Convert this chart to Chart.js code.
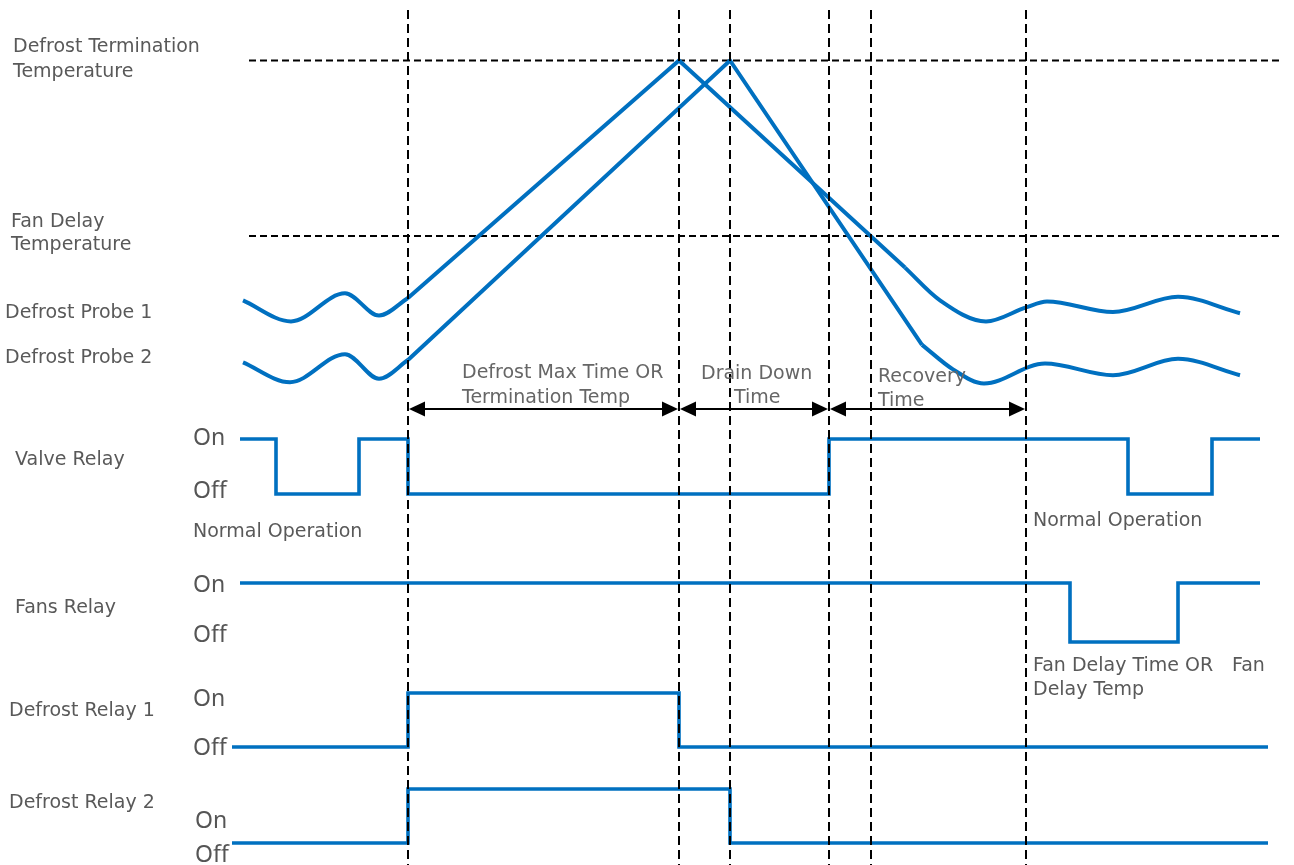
<!DOCTYPE html>
<html>
<head>
<meta charset="utf-8">
<title>Defrost sequence timing</title>
<script src="https://cdn.jsdelivr.net/npm/chart.js@4.4.1/dist/chart.umd.min.js"></script>
<style>
  html, body { margin: 0; padding: 0; background: #ffffff; }
  #wrap { width: 1294px; height: 865px; }
</style>
</head>
<body>
<div id="wrap"><canvas id="timing" width="1294" height="865"></canvas></div>
<script>
// time in minutes, 0 = start of defrost
const events = [0, 27.1, 32.2, 42.1, 46.3, 61.8];

// temperatures in degC
const terminationTemp = 15;
const fanDelayTemp = 0;
const thresholdSpan = [-15.9, 87.2];

const probe1WaveTime = [-16.5, -11.7, -6.3, -2.9, 0];
const probe1WaveTemp = [-5.5, -7.3, -4.9, -6.8, -5.3];
const probe1RampTime = [0, 27.1, 49.7];
const probe1RampTemp = [-5.3, 15, -2.7];
const probe1TailTime = [49.7, 53.2, 57.8, 61.8, 63.9, 70.5, 77.0, 83.2];
const probe1TailTemp = [-2.7, -5.5, -7.3, -6.1, -5.6, -6.5, -5.2, -6.6];

const probe2WaveTime = [-16.5, -11.8, -6.3, -2.9, 0];
const probe2WaveTemp = [-10.8, -12.5, -10.1, -12.2, -10.6];
const probe2RampTime = [0, 32.2, 51.4];
const probe2RampTemp = [-10.6, 15, -9.3];
const probe2TailTime = [51.4, 54.5, 57.6, 63.7, 70.5, 77.0, 83.2];
const probe2TailTemp = [-9.3, -11.4, -12.6, -10.9, -11.9, -10.5, -11.9];

// relay states, 1 = On, 0 = Off (state holds from that time on)
const valveTime = [-16.8, -13.2, -4.9, 0, 42.1, 72.0, 80.4, 85.2];
const valveState = [1, 0, 1, 0, 1, 0, 1, 1];
const fansTime = [-16.8, 66.2, 77.0, 85.2];
const fansState = [1, 0, 1, 1];
const defrost1Time = [-17.6, 0, 27.1, 86.0];
const defrost1State = [0, 1, 0, 0];
const defrost2Time = [-17.6, 0, 32.2, 86.0];
const defrost2State = [0, 1, 0, 0];

const BLUE = '#0070C0';
const GREY = '#595959';
const W = 1294, H = 865;

// each track gets its own hidden axis; range chosen so two values land on given pixel rows
function axisRange(vHigh, pxHigh, vLow, pxLow) {
  const k = (pxLow - pxHigh) / (vHigh - vLow);
  return { min: vHigh - (H - pxHigh) / k, max: vHigh + pxHigh / k };
}

const pts = (xs, ys) => xs.map((t, i) => ({ x: t, y: ys[i] }));

function probe(xs, ys, curved) {
  return {
    data: pts(xs, ys),
    yAxisID: 'yTemp',
    borderColor: BLUE,
    borderWidth: 4,
    pointRadius: 0,
    cubicInterpolationMode: curved ? 'monotone' : 'default',
    tension: 0
  };
}

function relay(xs, ys, axis) {
  return {
    data: pts(xs, ys),
    yAxisID: axis,
    borderColor: BLUE,
    borderWidth: 3.6,
    pointRadius: 0,
    stepped: 'before'
  };
}

function threshold(temp) {
  return {
    data: pts(thresholdSpan, [temp, temp]),
    yAxisID: 'yTemp',
    borderColor: '#000000',
    borderWidth: 2,
    borderDash: [7, 4],
    pointRadius: 0
  };
}

const labels = [
  ['Defrost Termination', 13, 52], ['Temperature', 13, 77],
  ['Fan Delay', 11, 227], ['Temperature', 11, 250],
  ['Defrost Probe 1', 5, 318], ['Defrost Probe 2', 5, 363],
  ['Valve Relay', 15, 465], ['Fans Relay', 15, 613],
  ['Defrost Relay 1', 9, 716], ['Defrost Relay 2', 9, 808],
  ['Normal Operation', 193, 537], ['Normal Operation', 1033, 526],
  ['Fan Delay Time OR', 1033, 671], ['Fan', 1232, 671], ['Delay Temp', 1033, 695]
];
const notes = [
  ['Defrost Max Time OR', 462, 378], ['Termination Temp', 462, 403],
  ['Drain Down', 701, 379], ['Time', 734, 403],
  ['Recovery', 878, 382], ['Time', 878, 406]
];
const onOff = [
  ['On', 193, 445], ['Off', 193, 498],
  ['On', 193, 592], ['Off', 193, 642],
  ['On', 193, 706], ['Off', 193, 755],
  ['On', 195, 828], ['Off', 195, 862]
];
// arrows between event lines (indices into events)
const phases = [[0, 1], [1, 3], [3, 5]];

const overlay = {
  id: 'overlay',
  afterDatasetsDraw(chart) {
    const { ctx, chartArea } = chart;
    const x = chart.scales.x;
    ctx.save();

    ctx.strokeStyle = '#000';
    ctx.lineWidth = 2;
    ctx.setLineDash([9, 5]);
    events.forEach(t => {
      const px = Math.round(x.getPixelForValue(t));
      ctx.beginPath();
      ctx.moveTo(px, chartArea.top + 10);
      ctx.lineTo(px, chartArea.bottom);
      ctx.stroke();
    });

    ctx.setLineDash([]);
    const ay = 409;
    ctx.fillStyle = '#000';
    phases.forEach(([a, b]) => {
      const x1 = x.getPixelForValue(events[a]) + 1;
      const x2 = x.getPixelForValue(events[b]) - 1;
      ctx.beginPath();
      ctx.moveTo(x1 + 10, ay);
      ctx.lineTo(x2 - 10, ay);
      ctx.stroke();
      ctx.beginPath();
      ctx.moveTo(x1, ay); ctx.lineTo(x1 + 16, ay - 7.5); ctx.lineTo(x1 + 16, ay + 7.5);
      ctx.closePath(); ctx.fill();
      ctx.beginPath();
      ctx.moveTo(x2, ay); ctx.lineTo(x2 - 16, ay - 7.5); ctx.lineTo(x2 - 16, ay + 7.5);
      ctx.closePath(); ctx.fill();
    });
    ctx.restore();
  },
  afterDraw(chart) {
    const ctx = chart.ctx;
    ctx.save();
    ctx.textBaseline = 'alphabetic';
    ctx.font = '19px "DejaVu Sans"';
    ctx.fillStyle = GREY;
    labels.forEach(([s, lx, ly]) => ctx.fillText(s, lx, ly));
    ctx.fillStyle = '#666666';
    notes.forEach(([s, lx, ly]) => ctx.fillText(s, lx, ly));
    ctx.font = '23px "Noto Sans"';
    ctx.fillStyle = '#555555';
    onOff.forEach(([s, lx, ly]) => ctx.fillText(s, lx, ly));
    ctx.restore();
  }
};

const hidden = r => Object.assign({ type: 'linear', display: false }, r);

new Chart(document.getElementById('timing'), {
  type: 'line',
  data: {
    datasets: [
      probe(probe1WaveTime, probe1WaveTemp, true),
      probe(probe1RampTime, probe1RampTemp, false),
      probe(probe1TailTime, probe1TailTemp, true),
      probe(probe2WaveTime, probe2WaveTemp, true),
      probe(probe2RampTime, probe2RampTemp, false),
      probe(probe2TailTime, probe2TailTemp, true),
      relay(valveTime, valveState, 'yValve'),
      relay(fansTime, fansState, 'yFans'),
      relay(defrost1Time, defrost1State, 'yDef1'),
      relay(defrost2Time, defrost2State, 'yDef2'),
      threshold(terminationTemp),
      threshold(fanDelayTemp)
    ]
  },
  options: {
    responsive: false,
    animation: false,
    events: [],
    layout: { padding: 0 },
    plugins: {
      legend: { display: false },
      tooltip: { enabled: false }
    },
    scales: {
      x: hidden({ min: -40.8, max: 88.6 }),
      yTemp: hidden(axisRange(terminationTemp, 60.5, fanDelayTemp, 236)),
      yValve: hidden(axisRange(1, 439, 0, 494)),
      yFans: hidden(axisRange(1, 583, 0, 642)),
      yDef1: hidden(axisRange(1, 693, 0, 747)),
      yDef2: hidden(axisRange(1, 789, 0, 843))
    }
  },
  plugins: [overlay]
});
</script>
</body>
</html>
